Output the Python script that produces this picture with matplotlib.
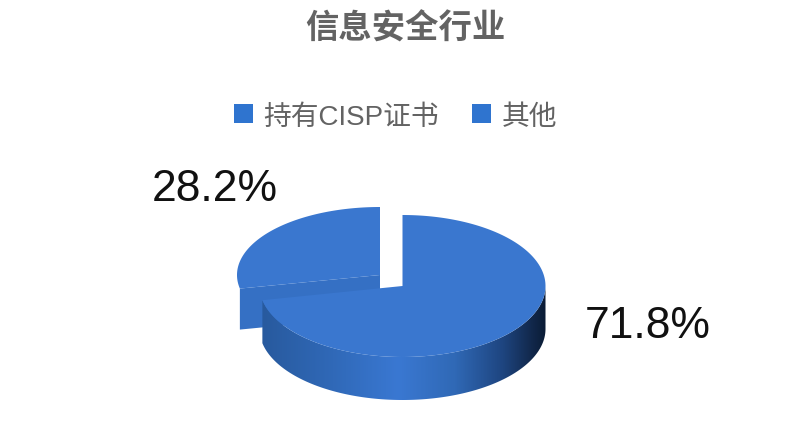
import numpy as np
import matplotlib
matplotlib.use('Agg')
import matplotlib.pyplot as plt
from matplotlib.colors import LinearSegmentedColormap
from matplotlib.patches import Polygon, Rectangle

title = '信息安全行业'
categories = ['持有CISP证书', '其他']
shares = [71.8, 28.2]
labels = ['71.8%', '28.2%']

TOP = '#3a77cf'
CJK = ['Noto Sans CJK SC', 'DejaVu Sans']
LATIN_CJK = ['Liberation Sans', 'Noto Sans CJK SC']

# pixel geometry of the fake 3d pie
A = 143
DEPTH = 43
centers = [(402.5, 287), (380, 276)]
heights = [71, 68]

side_cmap = LinearSegmentedColormap.from_list('side', [
    (0.0, '#285a9e'), (0.25, '#3069b8'), (0.48, '#3a78d2'), (0.68, '#3069b6'),
    (0.85, '#1e4580'), (0.95, '#12294d'), (1.0, '#0b1c36')])

fig = plt.figure(figsize=(8.06, 4.39), dpi=100)
ax = fig.add_axes([0, 0, 1, 1])


def arc(center, b, t0, t1, dy=0):
    # angles in degrees, clockwise from 12 o'clock
    t = np.radians(np.linspace(t0, t1, 200))
    return np.column_stack([center[0] + A * np.sin(t), center[1] - b * np.cos(t) + dy])


cut = shares[0] / sum(shares) * 360

# small slice, drawn first because the big one overlaps it
c, b = centers[1], heights[1]
edge = arc(c, b, cut, cut)[0]
face = [c, edge, edge + [0, DEPTH - 2], (c[0], c[1] + DEPTH - 2)]
ax.add_patch(Polygon(face, fc='#3570c4', ec='none', zorder=1))
ax.add_patch(Polygon(np.vstack([[c], arc(c, b, cut, 360)]), fc=TOP, ec='none', zorder=1))

# big slice: shaded wall, then the top
c, b = centers[0], heights[0]
wall = np.vstack([arc(c, b, 90, cut), arc(c, b, cut, 90, DEPTH)])
clip = Polygon(wall, transform=ax.transData, fc='none', ec='none')
ax.add_patch(clip)
x0, x1 = wall[:, 0].min(), wall[:, 0].max()
grad = np.linspace(0, 1, 400).reshape(1, -1)
im = ax.imshow(grad, cmap=side_cmap, aspect='auto', zorder=2,
               extent=(x0, x1, wall[:, 1].max(), wall[:, 1].min()))
im.set_clip_path(clip)
ax.add_patch(Polygon(np.vstack([[c], arc(c, b, 0, cut)]), fc=TOP, ec='none', zorder=3))

# title and legend
ax.text(405, 29, title, ha='center', va='center', fontsize=24, color='#636363',
        fontweight='bold', family=CJK)
squares = [234, 472]
text_x = [263, 502]
for sx, tx, name in zip(squares, text_x, categories):
    ax.add_patch(Rectangle((sx, 105), 19, 19, fc='#2f74cf', ec='none'))
    ax.text(tx, 118, name, ha='left', va='center', fontsize=20, color='#636363',
            family=LATIN_CJK)

# data labels
ax.text(648, 327, labels[0], ha='center', va='center', fontsize=32,
        color='#111111', family='Liberation Sans')
ax.text(215, 190, labels[1], ha='center', va='center', fontsize=32,
        color='#111111', family='Liberation Sans')

ax.set_xlim(0, 806)
ax.set_ylim(439, 0)
ax.axis('off')
fig.savefig('out.png', dpi=100, facecolor='white')
